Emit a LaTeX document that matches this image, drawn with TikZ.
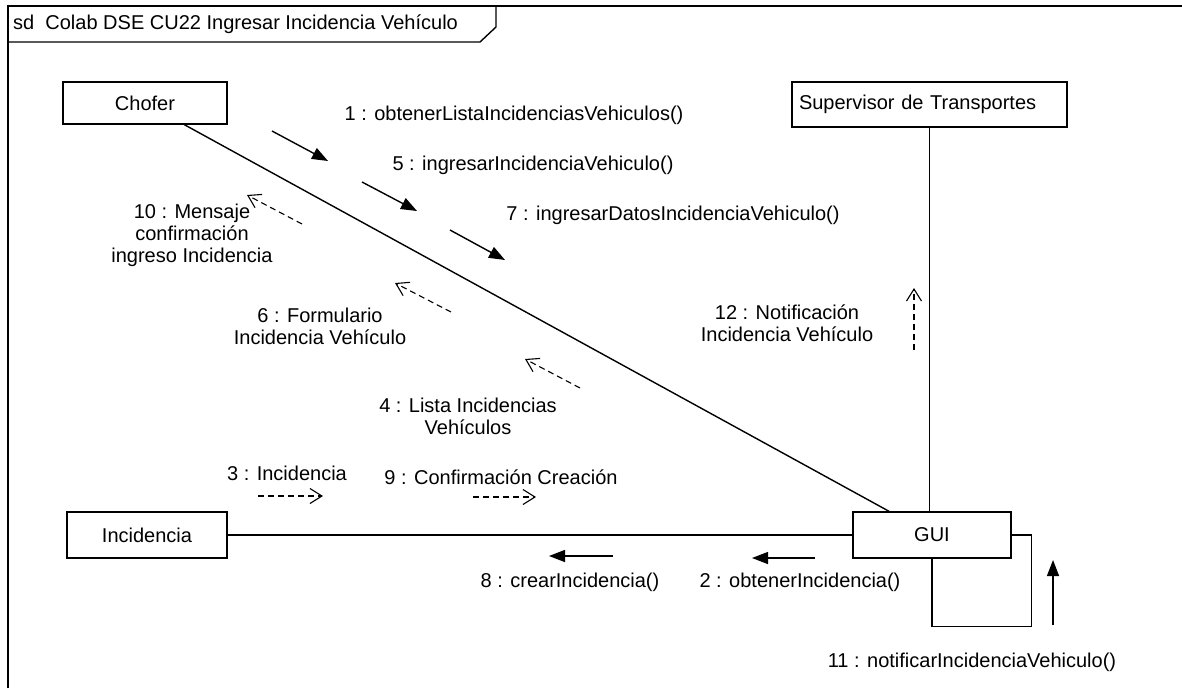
\documentclass[tikz,border=0pt]{standalone}
\usepackage{fontspec}
\setmainfont{Liberation Sans}
\usepackage{tikz}
\usetikzlibrary{
  arrows.meta,
  positioning,
  calc
}
\newcommand{\umlfont}{\fontsize{20}{22}\selectfont}
\tikzset{
  objbox/.style={draw, line width=1.4pt, fill=white,
    minimum height=42pt, inner sep=6pt, font=\umlfont},
  linkline/.style={line width=1.4pt},
  callarr/.style={-{Triangle[length=16pt,width=12pt]}, line width=1.4pt},
  retarr/.style={-{Straight Barb[length=12pt,width=15pt]}, line width=1.1pt,
    dash pattern=on 6pt off 4pt},
  msglabel/.style={font=\umlfont, align=center, inner sep=0pt},
}

\begin{document}
\begin{tikzpicture}[x=1pt,y=-1pt]
  \useasboundingbox (0,0) rectangle (1182,688);

  % Frame and tab
  \draw[linkline] (8,688) -- (8,6) -- (1182,6);
  \draw[linkline] (8,42) -- (480,42) -- (496,27) -- (496,6);
  \node[msglabel, anchor=west] (title) at (13,24)
    {sd\ \ Colab DSE CU22 Ingresar Incidencia Vehículo};

  % Objects
  \node[objbox, minimum width=164pt] (chofer) at (145,103) {Chofer};
  \node[objbox, minimum height=45pt, inner xsep=7pt, text width=261pt,
        align=left] (sup) at (929.5,104.5) {Supervisor de Transportes};
  \node[objbox, minimum width=160pt, minimum height=46pt] (inc) at (147,535)
    {Incidencia};
  \node[objbox, minimum width=158pt, minimum height=46pt] (gui) at (932,535)
    {GUI};

  % Links
  \draw[linkline] (chofer) -- (gui);
  \draw[linkline] (inc) -- (gui);
  \draw[linkline] (sup.south) -- (sup.south |- gui.north);
  \draw[linkline] (gui.east) -- ++(20,0) |- ($(gui.south)+(0,68)$)
    -- (gui.south);

  % Message arrows
  \coordinate (m1a) at (272,131);  \coordinate (m1b) at (328,161);
  \coordinate (m5a) at (362,182);  \coordinate (m5b) at (417,211);
  \coordinate (m7a) at (450,230);  \coordinate (m7b) at (505,260);
  \coordinate (m10a) at (302,224); \coordinate (m10b) at (247,195);
  \coordinate (m6a) at (451,312);  \coordinate (m6b) at (395,283);
  \coordinate (m4a) at (580,388);  \coordinate (m4b) at (525,359);
  \coordinate (m12a) at (914,350); \coordinate (m12b) at (914,288);
  \coordinate (m3a) at (258,496);  \coordinate (m3b) at (323,496);
  \coordinate (m9a) at (473,497);  \coordinate (m9b) at (536,497);
  \coordinate (m8a) at (613,556);  \coordinate (m8b) at (549,556);
  \coordinate (m2a) at (815,558);  \coordinate (m2b) at (752,558);
  \coordinate (m11a) at (1053,625); \coordinate (m11b) at (1053,560);

  \draw[callarr] (m1a) -- (m1b);
  \draw[callarr] (m5a) -- (m5b);
  \draw[callarr] (m7a) -- (m7b);
  \draw[callarr] (m8a) -- (m8b);
  \draw[callarr] (m2a) -- (m2b);
  \draw[callarr] (m11a) -- (m11b);
  \draw[retarr] (m10a) -- (m10b);
  \draw[retarr] (m6a) -- (m6b);
  \draw[retarr] (m4a) -- (m4b);
  \draw[retarr] (m12a) -- (m12b);
  \draw[retarr] (m3a) -- (m3b);
  \draw[retarr] (m9a) -- (m9b);

  % Message labels
  \node[msglabel] (l1) at (514,115) {1 : obtenerListaIncidenciasVehiculos()};
  \node[msglabel] (l5) at (533,165) {5 : ingresarIncidenciaVehiculo()};
  \node[msglabel] (l7) at (673,215) {7 : ingresarDatosIncidenciaVehiculo()};
  \node[msglabel] (l10) at (192,235)
    {10 : Mensaje\\confirmación\\ingreso Incidencia};
  \node[msglabel] (l6) at (320,326) {6 : Formulario\\Incidencia Vehículo};
  \node[msglabel] (l4) at (468,416) {4 : Lista Incidencias\\Vehículos};
  \node[msglabel] (l12) at (787,323) {12 : Notificación\\Incidencia Vehículo};
  \node[msglabel] (l3) at (287,473) {3 : Incidencia};
  \node[msglabel] (l9) at (501,477) {9 : Confirmación Creación};
  \node[msglabel] (l8) at (570,582) {8 : crearIncidencia()};
  \node[msglabel] (l2) at (800,582) {2 : obtenerIncidencia()};
  \node[msglabel] (l11) at (972,662) {11 : notificarIncidenciaVehiculo()};
\end{tikzpicture}
\end{document}
